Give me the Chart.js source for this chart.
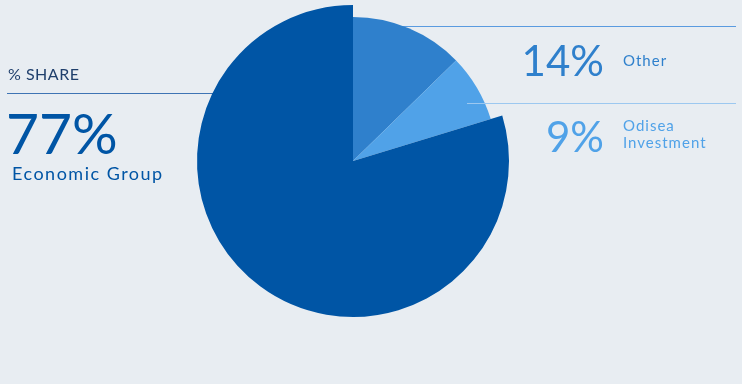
<!DOCTYPE html>
<html>
<head>
<meta charset="utf-8">
<script src="https://cdn.jsdelivr.net/npm/chart.js@4.4.1/dist/chart.umd.min.js"></script>
<style>
  html, body { margin: 0; padding: 0; background: #e8edf2; }
  #wrap { position: relative; width: 742px; height: 384px; overflow: hidden; font-family: Lato, "Open Sans", sans-serif; }
  #pieChart { position: absolute; left: 0; top: 0; z-index: 1; }
  .rule { position: absolute; height: 1px; }
  .txt { position: absolute; white-space: nowrap; z-index: 3; }
</style>
</head>
<body>
<div id="wrap">
  <div class="rule" style="left:7px; top:93px; width:210px; background:#3e74b4; z-index:0"></div>
  <div class="rule" style="left:400px; top:26px; width:336px; background:#5a9be0; z-index:0"></div>
  <div class="rule" style="left:467px; top:103px; width:269px; background:#9cc8f0; z-index:2"></div>
  <canvas id="pieChart" width="742" height="384"></canvas>

  <div class="txt" style="left:8px; top:64px; font-size:16px; color:#1f3f6c; letter-spacing:0.5px">% SHARE</div>
  <div class="txt" style="left:6px; top:104px; font-size:57px; font-weight:400; color:#0055a5; line-height:1">77%</div>
  <div class="txt" style="left:12px; top:162px; font-size:18px; font-weight:400; color:#0055a5; letter-spacing:1.5px">Economic Group</div>

  <div class="txt" style="right:138px; top:39px; font-size:42px; font-weight:400; color:#2f80cc; line-height:1; text-align:right">14%</div>
  <div class="txt" style="left:623px; top:51px; font-size:15px; font-weight:400; color:#2f80cc; letter-spacing:1px">Other</div>

  <div class="txt" style="right:138px; top:115px; font-size:42px; font-weight:400; color:#50a2e8; line-height:1; text-align:right">9%</div>
  <div class="txt" style="left:623px; top:117px; font-size:15px; font-weight:400; color:#50a2e8; letter-spacing:1px; line-height:17px">Odisea<br>Investment</div>
</div>
<script>
// slice sizes as drawn (clockwise from 12 o'clock)
const categories = ['Other', 'Odisea Investment', 'Economic Group'];
const shareValues = [12.7, 7.6, 79.7];
const sliceColors = ['#2f80cc', '#50a2e8', '#0055a5'];
// small slices are drawn a bit shorter than the main one
const radiusScale = [0.923, 0.923, 1];

const shrinkSlices = {
    id: 'shrinkSlices',
    afterDatasetsUpdate(chart) {
        const meta = chart.getDatasetMeta(0);
        meta.data.forEach((arc, i) => {
            arc.outerRadius = arc.outerRadius * radiusScale[i];
        });
    }
};

document.addEventListener('DOMContentLoaded', function () {
    const ctx = document.getElementById('pieChart').getContext('2d');
    new Chart(ctx, {
        type: 'pie',
        data: {
            labels: categories,
            datasets: [{
                data: shareValues,
                backgroundColor: sliceColors,
                borderWidth: 0
            }]
        },
        options: {
            responsive: false,
            maintainAspectRatio: false,
            animation: false,
            layout: { padding: { left: 197, right: 233, top: 5, bottom: 67 } },
            plugins: {
                legend: { display: false },
                tooltip: { enabled: false }
            }
        },
        plugins: [shrinkSlices]
    });
});
</script>
</body>
</html>
